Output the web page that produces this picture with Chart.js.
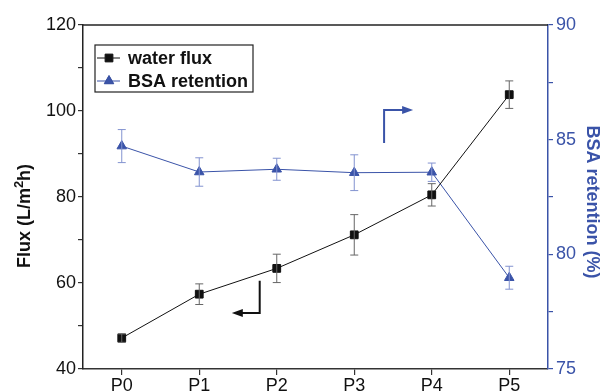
<!DOCTYPE html>
<html>
<head>
<meta charset="utf-8">
<script src="https://cdn.jsdelivr.net/npm/chart.js@4.4.1/dist/chart.umd.min.js"></script>
<style>
  html, body { margin: 0; padding: 0; background: #fff; }
  #wrap { width: 605px; height: 392px; }
</style>
</head>
<body>
<div id="wrap"><canvas id="c"></canvas></div>
<script>
// data
const categories = ['P0', 'P1', 'P2', 'P3', 'P4', 'P5'];
const fluxValues = [47.2, 57.4, 63.4, 71.2, 80.5, 103.8];
const fluxErrors = [1.0, 2.4, 3.3, 4.7, 2.6, 3.2];
const bsaValues = [84.72, 83.59, 83.71, 83.56, 83.58, 78.98];
const bsaErrors = [0.72, 0.62, 0.48, 0.78, 0.4, 0.5];
const fluxTicks = [40, 60, 80, 100, 120];
const bsaTicks = [75, 80, 85, 90];

const blue = '#3a53a8';
const lightBlue = '#8393d0';
const font = "'Liberation Sans', Arial, sans-serif";

// arrows in data coords: [x index, y value] on the given axis
const arrows = [
  { axis: 'y1', color: blue, pts: [[3.385, 84.85], [3.385, 86.29], [3.76, 86.29]] },
  { axis: 'y', color: '#111', pts: [[1.78, 53.0], [1.78, 60.5], [1.78, 53.0], [1.42, 53.0]] }
];

const extras = {
  id: 'extras',
  afterDatasetsDraw(chart) {
    const { ctx, chartArea: a, scales } = chart;
    ctx.save();

    // error bars
    const bars = [[fluxValues, fluxErrors, 'y', '#666'], [bsaValues, bsaErrors, 'y1', lightBlue]];
    bars.forEach(([vals, errs, ax, col]) => {
      ctx.strokeStyle = col;
      ctx.lineWidth = 1;
      vals.forEach((v, i) => {
        const x = scales.x.getPixelForValue(i);
        const yt = scales[ax].getPixelForValue(v + errs[i]);
        const yb = scales[ax].getPixelForValue(v - errs[i]);
        ctx.beginPath();
        ctx.moveTo(x, yt); ctx.lineTo(x, yb);
        ctx.moveTo(x - 4, yt); ctx.lineTo(x + 4, yt);
        ctx.moveTo(x - 4, yb); ctx.lineTo(x + 4, yb);
        ctx.stroke();
      });
    });

    // top frame line
    ctx.strokeStyle = '#222';
    ctx.lineWidth = 1.5;
    ctx.beginPath();
    ctx.moveTo(a.left, a.top); ctx.lineTo(a.right, a.top);
    ctx.stroke();

    // arrows
    arrows.forEach(ar => {
      const p = ar.pts.map(([xi, yv]) => [scales.x.getPixelForValue(xi), scales[ar.axis].getPixelForValue(yv)]);
      const last = p[p.length - 1];
      const prev = p[p.length - 2];
      const dir = Math.sign(last[0] - prev[0]);
      ctx.strokeStyle = ar.color;
      ctx.fillStyle = ar.color;
      ctx.lineWidth = 2;
      ctx.beginPath();
      ctx.moveTo(p[0][0], p[0][1]);
      for (let k = 1; k < p.length - 1; k++) ctx.lineTo(p[k][0], p[k][1]);
      ctx.lineTo(last[0] - dir * 8, last[1]);
      ctx.stroke();
      ctx.beginPath();
      ctx.moveTo(last[0], last[1]);
      ctx.lineTo(last[0] - dir * 11, last[1] - 4);
      ctx.lineTo(last[0] - dir * 11, last[1] + 4);
      ctx.closePath();
      ctx.fill();
    });

    // legend box
    const lx = a.left + 12, ly = a.top + 20, lw = 158, lh = 47;
    ctx.strokeStyle = '#222';
    ctx.lineWidth = 1.2;
    ctx.fillStyle = '#fff';
    ctx.fillRect(lx, ly, lw, lh);
    ctx.strokeRect(lx, ly, lw, lh);
    chart.data.datasets.forEach((ds, i) => {
      const cy = ly + 13 + i * 23;
      ctx.strokeStyle = ds.borderColor;
      ctx.lineWidth = 1;
      ctx.beginPath();
      ctx.moveTo(lx + 2, cy); ctx.lineTo(lx + 25, cy);
      ctx.stroke();
      Chart.helpers.drawPoint(ctx, { pointStyle: ds.pointStyle, radius: ds.pointRadius, borderWidth: 1 }, lx + 14, cy);
      ctx.fillStyle = ds.borderColor;
      ctx.fill();
      ctx.fillStyle = '#111';
      ctx.font = 'bold 18px ' + font;
      ctx.textBaseline = 'middle';
      ctx.textAlign = 'left';
      ctx.fillText(ds.label, lx + 33, cy + 1);
    });

    // axis titles
    ctx.font = 'bold 18px ' + font;
    ctx.textBaseline = 'middle';
    ctx.save();
    ctx.translate(25, 216);
    ctx.rotate(-Math.PI / 2);
    const t1 = 'Flux (L/m', t2 = '2', t3 = 'h)';
    const w1 = ctx.measureText(t1).width;
    ctx.font = 'bold 13px ' + font;
    const w2 = ctx.measureText(t2).width;
    ctx.font = 'bold 18px ' + font;
    const w3 = ctx.measureText(t3).width;
    let sx = -(w1 + w2 + w3) / 2;
    ctx.fillStyle = '#111';
    ctx.textAlign = 'left';
    ctx.fillText(t1, sx, 0);
    ctx.font = 'bold 13px ' + font;
    ctx.fillText(t2, sx + w1, -6);
    ctx.font = 'bold 18px ' + font;
    ctx.fillText(t3, sx + w1 + w2, 0);
    ctx.restore();

    ctx.save();
    ctx.translate(592, 202);
    ctx.rotate(Math.PI / 2);
    ctx.fillStyle = blue;
    ctx.textAlign = 'center';
    ctx.fillText('BSA retention (%)', 0, 0);
    ctx.restore();

    ctx.restore();
  }
};

new Chart(document.getElementById('c'), {
  type: 'line',
  data: {
    labels: categories,
    datasets: [{
      label: 'water flux',
      data: fluxValues,
      yAxisID: 'y',
      borderColor: '#111',
      backgroundColor: '#111',
      borderWidth: 1,
      pointStyle: 'rect',
      pointRadius: 5.5,
      tension: 0
    }, {
      label: 'BSA retention',
      data: bsaValues,
      yAxisID: 'y1',
      borderColor: blue,
      backgroundColor: blue,
      borderWidth: 1,
      pointStyle: 'triangle',
      pointRadius: 5.5,
      tension: 0
    }]
  },
  options: {
    responsive: true, maintainAspectRatio: false,
    animation: false,
    layout: { padding: { top: 25, left: 0, right: 0, bottom: 0 } },
    plugins: { legend: { display: false }, tooltip: { enabled: false } },
    scales: {
      x: {
        offset: true,
        grid: { display: true, drawOnChartArea: false, offset: false, tickLength: 6, color: '#333', lineWidth: 1.2 },
        border: { color: '#333', width: 1.5 },
        ticks: { color: '#111', font: { family: font, size: 18 }, padding: 0, maxRotation: 0 },
        afterFit: s => { s.height = 23; }
      },
      y: {
        position: 'left',
        min: 40, max: 120,
        grid: { drawOnChartArea: false, tickLength: 5, color: '#333', lineWidth: 1.2 },
        border: { color: '#222', width: 1.5 },
        ticks: {
          stepSize: 10, color: '#111', padding: 2,
          font: { family: font, size: 18 },
          callback: v => fluxTicks.includes(v) ? v : ''
        },
        afterFit: s => { s.width = 83; }
      },
      y1: {
        position: 'right',
        min: 75, max: 90,
        grid: { drawOnChartArea: false, tickLength: 5, color: blue, lineWidth: 1.2 },
        border: { color: blue, width: 1.5 },
        ticks: {
          stepSize: 2.5, color: blue, padding: 3,
          font: { family: font, size: 18 },
          callback: v => bsaTicks.includes(v) ? v : ''
        },
        afterFit: s => { s.width = 57; }
      }
    }
  },
  plugins: [extras]
});
</script>
</body>
</html>
